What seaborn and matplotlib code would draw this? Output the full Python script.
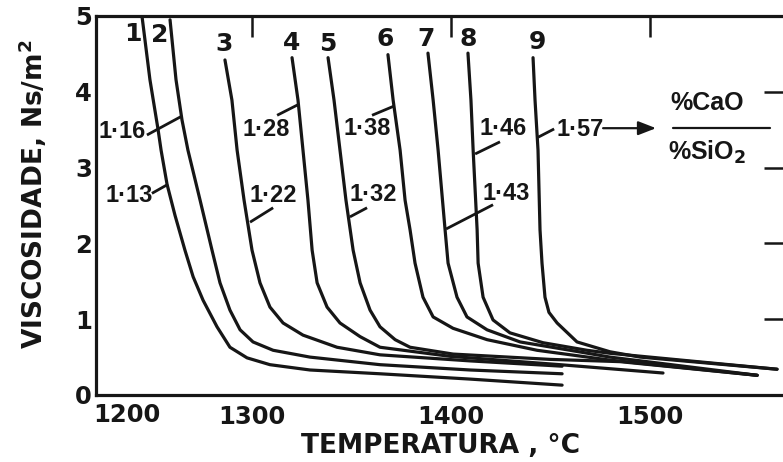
import matplotlib
matplotlib.use("Agg")
import matplotlib.pyplot as plt
import pandas as pd
import seaborn as sns

# Viscosity of CaO-SiO2 slags vs. temperature, one curve per basicity ratio
curve_ids = ["1", "2", "3", "4", "5", "6", "7", "8", "9"]
basicity = ["1·13", "1·16", "1·22", "1·28", "1·32", "1·38", "1·43", "1·46", "1·57"]

temp_1 = [1244.7, 1248.7, 1252.8, 1254.3, 1257.3, 1261.3, 1266.3, 1270.4, 1275.4, 1282.4,
          1288.9, 1297.5, 1309.0, 1329.1, 1364.3, 1409.5, 1455.8]
visc_1 = [5.00, 4.16, 3.50, 3.23, 2.78, 2.37, 1.91, 1.56, 1.25, 0.90,
          0.63, 0.49, 0.40, 0.33, 0.28, 0.21, 0.13]

temp_2 = [1258.8, 1261.8, 1264.8, 1267.8, 1273.9, 1279.9, 1283.9, 1288.9, 1294.0, 1300.5,
          1310.6, 1329.1, 1364.3, 1409.5, 1455.8]
visc_2 = [4.95, 4.16, 3.63, 3.23, 2.57, 1.91, 1.48, 1.12, 0.86, 0.70,
          0.59, 0.50, 0.40, 0.33, 0.28]

temp_3 = [1286.4, 1289.9, 1292.5, 1296.0, 1300.0, 1304.0, 1309.0, 1315.6, 1325.6, 1342.7,
          1364.3, 1409.5, 1455.8]
visc_3 = [4.42, 3.89, 3.23, 2.57, 1.91, 1.48, 1.16, 0.95, 0.79, 0.63,
          0.53, 0.45, 0.38]

temp_4 = [1320.1, 1323.1, 1325.6, 1328.1, 1330.2, 1332.7, 1337.7, 1344.2, 1354.3, 1364.3,
          1399.5, 1454.8, 1506.5]
visc_4 = [4.45, 3.89, 3.23, 2.57, 1.91, 1.48, 1.16, 0.95, 0.77, 0.63,
          0.51, 0.40, 0.29]

temp_5 = [1338.2, 1341.2, 1344.2, 1347.2, 1350.8, 1354.3, 1359.3, 1364.3, 1371.9, 1379.4,
          1401.0, 1449.7, 1484.9, 1553.8]
visc_5 = [4.45, 3.89, 3.23, 2.57, 1.91, 1.48, 1.12, 0.90, 0.73, 0.63,
          0.54, 0.47, 0.44, 0.26]

temp_6 = [1368.3, 1370.9, 1374.4, 1376.9, 1379.4, 1381.9, 1385.9, 1391.0, 1401.0, 1418.1,
          1443.2, 1479.9, 1553.8]
visc_6 = [4.49, 3.89, 3.23, 2.57, 2.18, 1.74, 1.29, 1.03, 0.88, 0.73,
          0.59, 0.46, 0.26]

temp_7 = [1388.4, 1391.0, 1393.5, 1397.0, 1398.5, 1403.0, 1408.0, 1418.1, 1434.7, 1459.8,
          1479.9, 1553.8]
visc_7 = [4.51, 3.89, 3.23, 2.18, 1.74, 1.29, 1.03, 0.86, 0.70, 0.59,
          0.50, 0.26]

temp_8 = [1408.5, 1410.0, 1411.1, 1413.1, 1413.6, 1416.1, 1421.1, 1429.6, 1446.2, 1468.3,
          1479.9, 1563.8]
visc_8 = [4.51, 3.89, 3.23, 2.18, 1.74, 1.29, 0.99, 0.82, 0.69, 0.59,
          0.55, 0.34]

temp_9 = [1441.2, 1442.2, 1443.7, 1444.7, 1445.7, 1447.2, 1449.2, 1453.3, 1463.3, 1479.9,
          1495.0, 1563.8]
visc_9 = [4.45, 3.89, 3.23, 2.18, 1.74, 1.29, 1.09, 0.95, 0.70, 0.57,
          0.50, 0.34]

x_ticks = [1300, 1400, 1500]
x_tick_labels = ["1300", "1400", "1500"]
y_ticks = [0, 1, 2, 3, 4, 5]

temps = [temp_1, temp_2, temp_3, temp_4, temp_5, temp_6, temp_7, temp_8, temp_9]
viscs = [visc_1, visc_2, visc_3, visc_4, visc_5, visc_6, visc_7, visc_8, visc_9]
frames = []
for cid, t, v in zip(curve_ids, temps, viscs):
    frames.append(pd.DataFrame({"curve": cid, "temp": t, "visc": v}))
df = pd.concat(frames, ignore_index=True)

sns.set_theme(style="white")
plt.rcParams["font.family"] = ["DejaVu Sans"]
plt.rcParams["mathtext.fontset"] = "dejavusans"
plt.rcParams["lines.solid_joinstyle"] = "round"
plt.rcParams["lines.solid_capstyle"] = "round"

INK = "#161616"
W, H = 783, 462
fig = plt.figure(figsize=(W / 100, H / 100), dpi=100)
ax = fig.add_axes([96 / W, 1 - 395 / H, (785 - 96) / W, (395 - 16) / H])

sns.lineplot(data=df, x="temp", y="visc", hue="curve",
             palette={c: INK for c in curve_ids}, estimator=None, sort=False,
             legend=False, linewidth=2.3, ax=ax)

ax.set_xlim(1221.6, 1567.8)
ax.set_ylim(0, 5)
ax.set_xticks(x_ticks)
ax.set_xticklabels(x_tick_labels)
ax.set_yticks(y_ticks)
ax.tick_params(axis="both", which="major", direction="in", length=15, width=1.8,
               color=INK, top=True, right=True, labelsize=17.5, labelcolor=INK)
ax.tick_params(axis="x", pad=7)
ax.tick_params(axis="y", pad=3)
for lbl in ax.get_xticklabels() + ax.get_yticklabels():
    lbl.set_fontweight("bold")
for side, sp in ax.spines.items():
    sp.set_visible(True)
    sp.set_linewidth(2.3)
    sp.set_color(INK)

# "1200" sits at the left corner of the temperature axis
ax.text(0.045, -0.054, "1200", transform=ax.transAxes, ha="center", va="center",
        fontsize=17.5, fontweight="bold", color=INK)

ax.set_xlabel("TEMPERATURA , °C", fontsize=19, fontweight="bold", color=INK)
ax.xaxis.set_label_coords(0.5007, -0.100)
ax.set_ylabel("VISCOSIDADE, Ns/m$^\\mathbf{2}$", fontsize=19, fontweight="bold", color=INK)
ax.yaxis.set_label_coords(-0.068, 0.53)

# curve numbers at the top of each curve
num_pos = [(1240.2, 4.76), (1253.8, 4.75), (1285.9, 4.63), (1320.1, 4.65), (1338.2, 4.63),
           (1366.8, 4.70), (1387.4, 4.70), (1408.5, 4.70), (1443.2, 4.66)]
for cid, (tx, ty) in zip(curve_ids, num_pos):
    ax.text(tx, ty, cid, ha="center", va="center", fontsize=18, fontweight="bold", color=INK)

# basicity labels with leader lines to their curves
lab_font = dict(family=["Liberation Sans", "DejaVu Sans"], fontsize=17, fontweight="bold", color=INK)
labels = [
    # text pos, leader start, leader end
    ((1238.2, 2.63), (1249.7, 2.66), (1257.8, 2.78)),   # 1.13
    ((1234.7, 3.48), (1247.2, 3.43), (1264.8, 3.68)),   # 1.16
    ((1310.6, 2.63), (1310.6, 2.47), (1299.0, 2.28)),   # 1.22
    ((1307.0, 3.50), (1312.6, 3.69), (1323.1, 3.83)),   # 1.28
    ((1360.8, 2.65), (1357.8, 2.47), (1349.2, 2.35)),   # 1.32
    ((1357.8, 3.52), (1360.3, 3.69), (1371.2, 3.81)),   # 1.38
    ((1427.6, 2.66), (1421.1, 2.51), (1397.5, 2.19)),   # 1.43
    ((1426.1, 3.52), (1424.6, 3.34), (1412.1, 3.18)),   # 1.46
    ((1464.8, 3.50), (1451.8, 3.51), (1443.7, 3.40)),   # 1.57
]
for text, (tpos, p0, p1) in zip(basicity, labels):
    ax.text(tpos[0], tpos[1], text, ha="center", va="center", **lab_font)
    ax.plot([p0[0], p1[0]], [p0[1], p1[1]], color=INK, lw=2.0, solid_capstyle="butt")

# arrow pointing to the CaO/SiO2 ratio definition
ax.annotate("", xy=(1503.0, 3.52), xytext=(1476.4, 3.52),
            arrowprops=dict(arrowstyle="-|>,head_length=0.9,head_width=0.35",
                            color=INK, lw=1.6, shrinkA=0, shrinkB=0))
frac_font = dict(family=["Liberation Sans", "DejaVu Sans"], fontsize=18, fontweight="bold", color=INK)
ax.text(1528.6, 3.85, "%CaO", ha="center", va="center", **frac_font)
ax.text(1528.6, 3.20, "%SiO$_\\mathbf{2}$", ha="center", va="center", **frac_font)
ax.plot([1511.6, 1560.3], [3.52, 3.52], color=INK, lw=1.6)

fig.savefig("out.png", dpi=100, facecolor="white")
